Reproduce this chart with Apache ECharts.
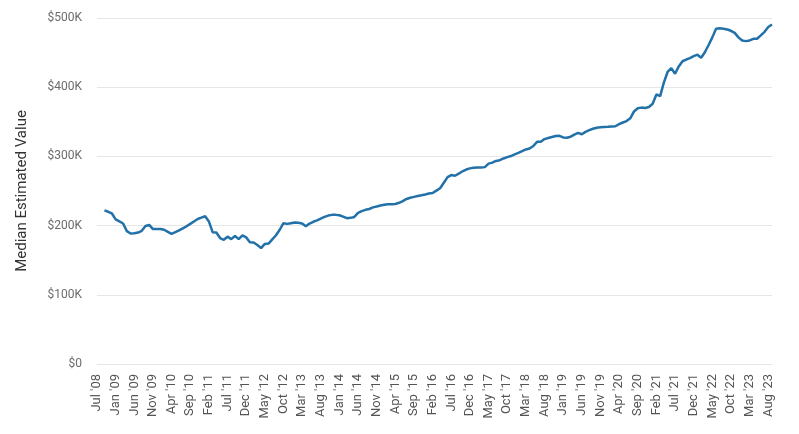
<!DOCTYPE html>
<html>
<head>
<meta charset="utf-8">
<script src="https://cdn.jsdelivr.net/npm/echarts@6/dist/echarts.min.js"></script>
<style>
  html, body { margin: 0; padding: 0; background: #fff; }
  #chart { width: 799px; height: 434px; }
</style>
</head>
<body>
<div id="chart"></div>
<script>
// month names for the x axis categories
const monthNames = ['Jan', 'Feb', 'Mar', 'Apr', 'May', 'Jun', 'Jul', 'Aug', 'Sep', 'Oct', 'Nov', 'Dec'];

// first category, then monthly from Sep '08 to Sep '23
const firstCategory = "Jul '08";
const startYear = 2008, startMonth = 8;   // Sep (0-based)
const monthCount = 181;

// median estimated value, in $K (first two categories have no value)
const medianValue = [
  null, null,
  222, 220, 217.5, 209, 206, 203, 192, 188.5, 189, 190,
  192.5, 199.5, 201, 195, 195, 195, 194, 191, 188, 190.5,
  193, 196, 199, 202.5, 206, 209.5, 211.5, 213.5, 206, 190.5,
  190, 182, 179.5, 184, 180.5, 185, 180.5, 186, 183, 176,
  175.5, 172, 167.5, 173.5, 174, 180, 186, 194, 203.5, 202.5,
  203.5, 204.5, 204, 203, 199, 203, 205.5, 207.5, 210, 212.5,
  214.5, 215.5, 215.5, 215, 213, 210.7, 211.2, 212.5, 218.5, 221,
  222.8, 224, 226.3, 227.5, 229, 230, 230.8, 231, 231.2, 233,
  235.5, 238.5, 240.3, 241.5, 242.7, 243.8, 245, 246.3, 247, 250.5,
  254, 262, 270, 273, 272, 275, 278.5, 281, 282.7, 283.5,
  284.1, 284.1, 284.5, 289.5, 291, 293.5, 294.5, 297, 299, 300.5,
  303, 305, 307.5, 310, 311.5, 315, 321, 321, 325, 326.5,
  328, 329.5, 329.7, 327.4, 327, 328.5, 331.5, 334, 332, 335.5,
  338, 340, 341.5, 342, 342.5, 342.8, 343.2, 343.6, 346.5, 349,
  351, 355, 365, 369.5, 370.5, 370, 371.5, 376, 389.5, 387,
  406.5, 422, 427.5, 419.5, 430, 437.5, 440, 442, 445, 447,
  442.5, 450.5, 461, 472, 484.5, 485.3, 484.5, 483.4, 481.5, 478.5,
  472, 467.5, 466.6, 467.5, 470, 470, 474.8, 480, 487, 490.6
];

const yTicks = [0, 100, 200, 300, 400, 500];

let categories = [firstCategory];
for (let k = 0; k < monthCount; k++) {
  const m = (startMonth + k) % 12;
  const y = startYear + Math.floor((startMonth + k) / 12);
  categories.push(monthNames[m] + " '" + String(y).slice(2));
}

var myChart = echarts.init(document.getElementById('chart'));

myChart.setOption({
  animation: false,
  textStyle: { fontFamily: 'Roboto, Arial, sans-serif' },
  grid: { left: 97, right: 27, top: 18, bottom: 70 },
  xAxis: {
    type: 'category',
    data: categories,
    boundaryGap: false,
    axisLine: { show: false },
    axisTick: { show: false },
    axisLabel: {
      interval: 4,
      rotate: 90,
      color: '#555',
      fontSize: 13,
      margin: 10
    }
  },
  yAxis: {
    type: 'value',
    min: yTicks[0],
    max: yTicks[yTicks.length - 1],
    interval: 100,
    name: 'Median Estimated Value',
    nameLocation: 'middle',
    nameGap: 67,
    nameTextStyle: { color: '#333', fontSize: 15 },
    axisLine: { show: false },
    axisTick: { show: false },
    axisLabel: {
      color: '#6b6b6b',
      fontSize: 12,
      margin: 15,
      formatter: v => v === 0 ? '$0' : '$' + v + 'K'
    },
    splitLine: { lineStyle: { color: '#e6e6e6', width: 1 } }
  },
  series: [
    {
      name: 'Median Estimated Value',
      type: 'line',
      data: medianValue,
      showSymbol: false,
      connectNulls: false,
      lineStyle: { color: '#2271a8', width: 2.5 },
      itemStyle: { color: '#2271a8' }
    }
  ]
});
</script>
</body>
</html>
